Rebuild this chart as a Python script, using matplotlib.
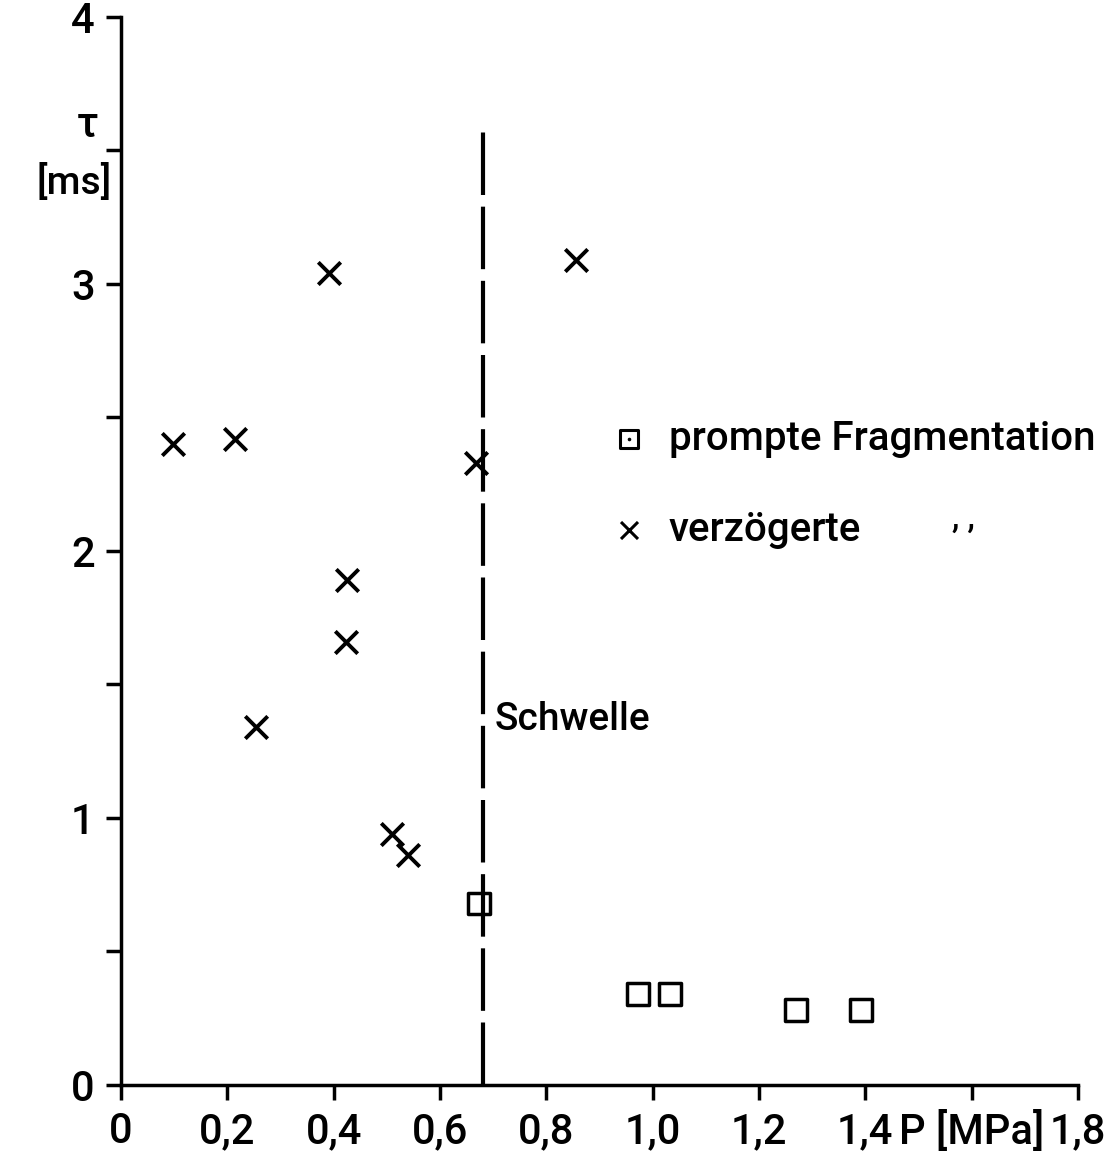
import matplotlib
matplotlib.use('Agg')
import matplotlib.pyplot as plt

plt.rcParams['font.family'] = ['Roboto', 'DejaVu Sans']
plt.rcParams['font.weight'] = 'medium'

# verzoegerte Fragmentation (x)
p_delayed = [0.098, 0.214, 0.391, 0.856, 0.668, 0.425, 0.423, 0.254, 0.51, 0.54]
tau_delayed = [2.40, 2.42, 3.04, 3.09, 2.33, 1.89, 1.66, 1.34, 0.94, 0.86]

# prompte Fragmentation (squares)
p_prompt = [0.673, 0.972, 1.033, 1.27, 1.392]
tau_prompt = [0.68, 0.34, 0.34, 0.28, 0.28]

threshold_p = 0.681
threshold_top = 3.6

xticks = [0, 0.2, 0.4, 0.6, 0.8, 1.0, 1.2, 1.4, 1.6, 1.8]
xticklabels = ['0', '0,2', '0,4', '0,6', '0,8', '1,0', '1,2', '1,4', 'P [MPa]', '1,8']
yticks = [0, 0.5, 1, 1.5, 2, 2.5, 3, 3.5, 4]
yticklabels = ['0', '', '1', '', '2', '', '3', '', '4']

fig = plt.figure(figsize=(11.12, 11.62), dpi=100)
ax = fig.add_axes([0.1088, 0.0663, 0.8606, 0.9191])

ax.scatter(p_delayed, tau_delayed, marker='x', s=260, color='black', linewidths=2.8)
ax.scatter(p_prompt, tau_prompt, marker='s', s=240, facecolors='none',
           edgecolors='black', linewidths=2.5)

ax.plot([threshold_p, threshold_p], [0, threshold_top], color='black', lw=3,
        dashes=(15, 2.8))
ax.text(threshold_p + 0.022, 1.37, 'Schwelle', fontsize=28, va='center', ha='left')

# legend drawn as text
ax.scatter([0.955], [2.42], marker='s', s=170, facecolors='none', edgecolors='black',
           linewidths=2.2)
ax.scatter([0.955], [2.42], marker='.', s=10, color='black')
ax.text(1.03, 2.42, 'prompte Fragmentation', fontsize=29, va='center', ha='left')
ax.scatter([0.955], [2.08], marker='x', s=150, color='black', linewidths=2.2)
ax.text(1.03, 2.08, 'verzögerte', fontsize=29, va='center', ha='left')
ax.text(1.585, 2.12, ', ,', fontsize=24, va='center', ha='center')

ax.set_xlim(0, 1.8)
ax.set_ylim(0, 4)
ax.set_xticks(xticks)
ax.set_xticklabels(xticklabels, fontsize=30)
ax.set_yticks(yticks)
ax.set_yticklabels(yticklabels, fontsize=30)
ax.tick_params(direction='out', length=11, width=2.5, pad=8)

ax.spines['top'].set_visible(False)
ax.spines['right'].set_visible(False)
ax.spines['left'].set_linewidth(2.5)
ax.spines['bottom'].set_linewidth(2.5)

fig.text(0.079, 0.892, 'τ', fontsize=30, ha='center', va='center')
fig.text(0.067, 0.8425, '[ms]', fontsize=28, ha='center', va='center')

fig.savefig('out.png', dpi=100)
